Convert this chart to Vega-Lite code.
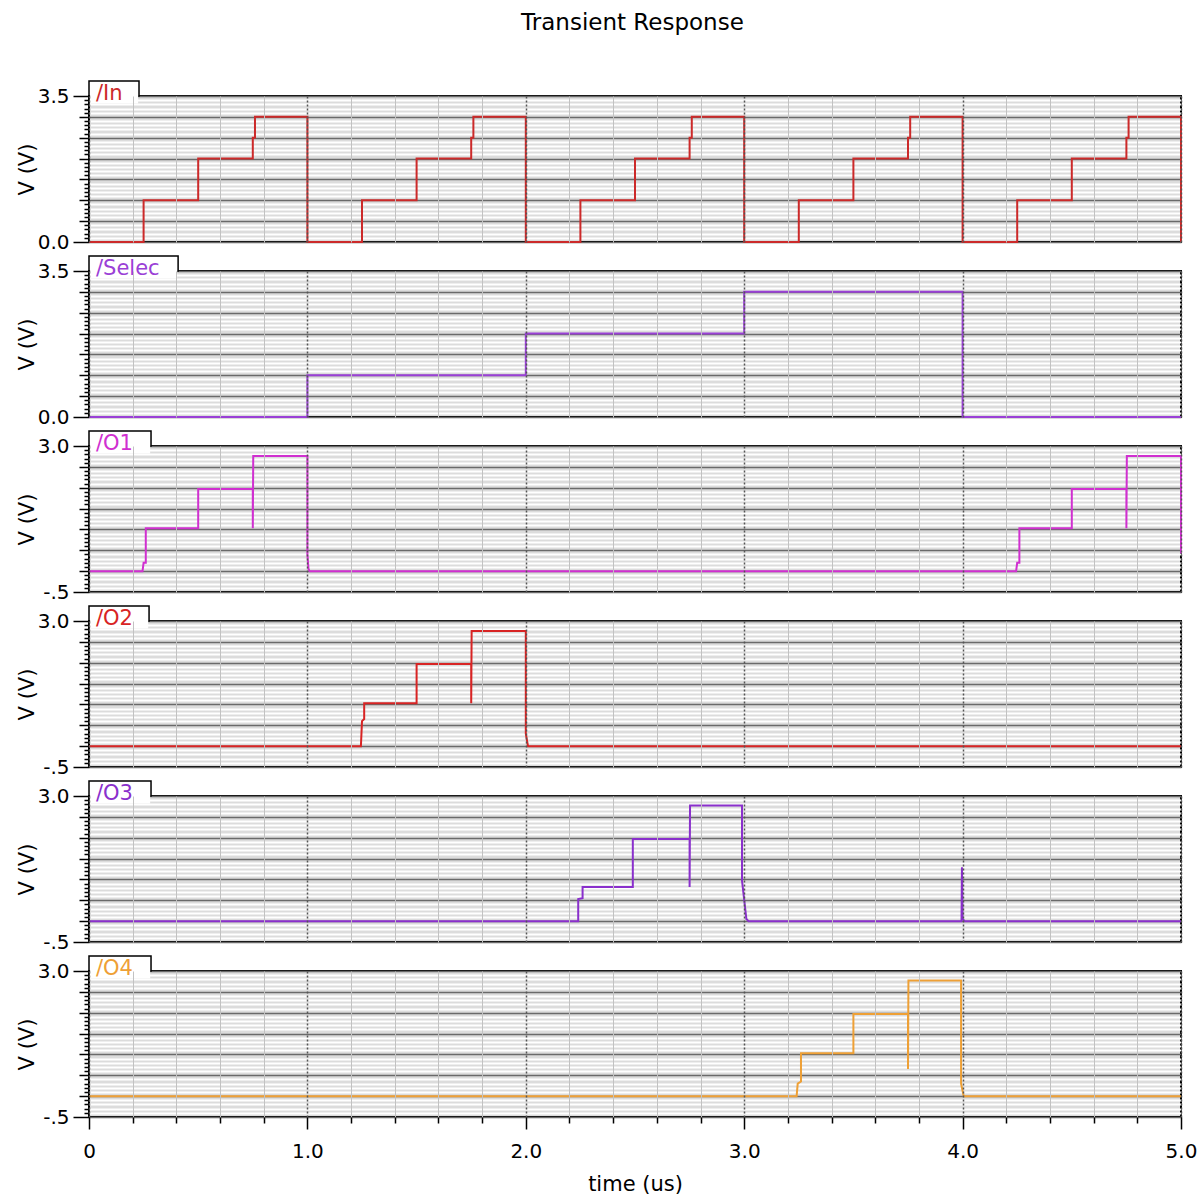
{
 "$schema": "https://vega.github.io/schema/vega-lite/v6.json",
 "padding": {"left": 15, "top": 12, "right": 20, "bottom": 4},
 "title": {"text": "Transient Response", "fontSize": 23, "fontWeight": "normal", "font": "DejaVu Sans", "color": "black", "anchor": "middle", "offset": 44, "dx": 26},
 "spacing": 1,
 "datasets": {
  "In": [
   {"t":0,"v":0},{"t":0.25,"v":0},{"t":0.25,"v":1},{"t":0.5,"v":1},{"t":0.5,"v":2},{"t":0.75,"v":2},{"t":0.75,"v":2.5},{"t":0.76,"v":2.5},{"t":0.76,"v":3},{"t":1,"v":3},{"t":1,"v":0},
   {"t":1.25,"v":0},{"t":1.25,"v":1},{"t":1.5,"v":1},{"t":1.5,"v":2},{"t":1.75,"v":2},{"t":1.75,"v":2.5},{"t":1.76,"v":2.5},{"t":1.76,"v":3},{"t":2,"v":3},{"t":2,"v":0},
   {"t":2.25,"v":0},{"t":2.25,"v":1},{"t":2.5,"v":1},{"t":2.5,"v":2},{"t":2.75,"v":2},{"t":2.75,"v":2.5},{"t":2.76,"v":2.5},{"t":2.76,"v":3},{"t":3,"v":3},{"t":3,"v":0},
   {"t":3.25,"v":0},{"t":3.25,"v":1},{"t":3.5,"v":1},{"t":3.5,"v":2},{"t":3.75,"v":2},{"t":3.75,"v":2.5},{"t":3.76,"v":2.5},{"t":3.76,"v":3},{"t":4,"v":3},{"t":4,"v":0},
   {"t":4.25,"v":0},{"t":4.25,"v":1},{"t":4.5,"v":1},{"t":4.5,"v":2},{"t":4.75,"v":2},{"t":4.75,"v":2.5},{"t":4.76,"v":2.5},{"t":4.76,"v":3},{"t":5,"v":3},{"t":5,"v":0}
  ],
  "Selec": [
   {"t":0,"v":0},{"t":1,"v":0},{"t":1,"v":1},{"t":2,"v":1},{"t":2,"v":2},{"t":3,"v":2},{"t":3,"v":3},{"t":4,"v":3},{"t":4,"v":0},{"t":5,"v":0}
  ],
  "O1": [
   {"t":0,"v":0},{"t":0.245,"v":0},{"t":0.25,"v":0.2},{"t":0.26,"v":0.2},{"t":0.26,"v":1.03},{"t":0.5,"v":1.03},{"t":0.5,"v":1.97},{"t":0.75,"v":1.97},{"t":0.75,"v":1.03},{"t":0.752,"v":2.76},{"t":1,"v":2.76},{"t":1,"v":0.4},{"t":1.005,"v":0.05},{"t":1.01,"v":0},
   {"t":4.245,"v":0},{"t":4.25,"v":0.2},{"t":4.26,"v":0.2},{"t":4.26,"v":1.03},{"t":4.5,"v":1.03},{"t":4.5,"v":1.97},{"t":4.75,"v":1.97},{"t":4.75,"v":1.03},{"t":4.752,"v":2.76},{"t":5,"v":2.76},{"t":5,"v":0.43}
  ],
  "O2": [
   {"t":0,"v":0},{"t":1.245,"v":0},{"t":1.25,"v":0.6},{"t":1.26,"v":0.65},{"t":1.26,"v":1.03},{"t":1.5,"v":1.03},{"t":1.5,"v":1.97},{"t":1.75,"v":1.97},{"t":1.75,"v":1.03},{"t":1.752,"v":2.76},{"t":2,"v":2.76},{"t":2,"v":0.3},{"t":2.01,"v":0},{"t":5,"v":0}
  ],
  "O3": [
   {"t":0,"v":0},{"t":2.24,"v":0},{"t":2.24,"v":0.53},{"t":2.26,"v":0.55},{"t":2.26,"v":0.82},{"t":2.49,"v":0.82},{"t":2.49,"v":1.97},{"t":2.75,"v":1.97},{"t":2.75,"v":0.82},{"t":2.752,"v":2.77},{"t":2.99,"v":2.77},{"t":2.99,"v":0.97},{"t":3.01,"v":0.05},{"t":3.02,"v":0},
   {"t":3.995,"v":0},{"t":3.997,"v":1.29},{"t":4,"v":0.05},{"t":4.01,"v":0},{"t":5,"v":0}
  ],
  "O4": [
   {"t":0,"v":0},{"t":3.24,"v":0},{"t":3.245,"v":0.3},{"t":3.26,"v":0.35},{"t":3.26,"v":1.03},{"t":3.5,"v":1.03},{"t":3.5,"v":1.97},{"t":3.75,"v":1.97},{"t":3.75,"v":0.65},{"t":3.752,"v":2.77},{"t":3.993,"v":2.77},{"t":3.993,"v":0.3},{"t":4.005,"v":0},{"t":5,"v":0}
  ]
 },
 "vconcat": [
  {
   "width": 1092, "height": 146,
   "layer": [
    {"data": {"name": "In"}, "mark": {"type": "line", "color": "#cc2a2a", "strokeWidth": 2},
     "encoding": {
      "x": {"field": "t", "type": "quantitative", "scale": {"domain": [0,5], "nice": false},
        "axis": {"values": [0,0.2,0.4,0.6,0.8,1,1.2,1.4,1.6,1.8,2,2.2,2.4,2.6,2.8,3,3.2,3.4,3.6,3.8,4,4.2,4.4,4.6,4.8,5], "tickCount": 200, "labels": false, "ticks": false, "domain": false, "title": null, "grid": true, "zindex": 1,
          "gridColor": {"condition": {"test": "abs(datum.value - round(datum.value)) < 0.01", "value": "#555555"}, "value": "#c2c2c2"},
          "gridDash": {"condition": {"test": "abs(datum.value - round(datum.value)) < 0.01", "value": [2,2]}, "value": []},
          "gridWidth": {"condition": {"test": "abs(datum.value - round(datum.value)) < 0.01", "value": 1.5}, "value": 1}}},
      "y": {"field": "v", "type": "quantitative", "scale": {"domain": [0,3.5], "nice": false, "zero": false},
        "axis": {"values": [0,0.1,0.2,0.3,0.4,0.5,0.6,0.7,0.8,0.9,1,1.1,1.2,1.3,1.4,1.5,1.6,1.7,1.8,1.9,2,2.1,2.2,2.3,2.4,2.5,2.6,2.7,2.8,2.9,3,3.1,3.2,3.3,3.4,3.5], "tickCount": 200,
          "title": "V (V)", "titlePadding": 8, "minExtent": 44, "maxExtent": 44, "domain": false, "labelPadding": 4,
          "labelExpr": "datum.value == 0 ? '0.0' : datum.value == 3.5 ? '3.5' : ''",
          "tickWidth": 1.5,
          "tickSize": {"condition": [{"test": "datum.value == 0 || datum.value == 3.5", "value": 16}, {"test": "abs(datum.value*2 - round(datum.value*2)) < 0.01", "value": 10}], "value": 5},
          "grid": true,
          "gridColor": {"condition": {"test": "abs(datum.value*2 - round(datum.value*2)) < 0.01", "value": "#6a6a6a"}, "value": "#ffffff"},
          "gridWidth": {"condition": {"test": "abs(datum.value*2 - round(datum.value*2)) < 0.01", "value": 1.5}, "value": 2}}},
      "order": {"value": null}
     }},
    {"data": {"values": [{"name": "/In"}]}, "mark": {"type": "rect", "fill": "white", "stroke": "black", "strokeWidth": 1.5},
     "encoding": {"x": {"datum": 0}, "x2": {"datum": 0.229}, "y": {"datum": 3.5}, "y2": {"datum": 3.86}}},
    {"data": {"values": [{"name": "/In"}]}, "mark": {"type": "rect", "fill": "white"},
     "encoding": {"x": {"datum": 0.005}, "x2": {"datum": 0.225}, "y": {"datum": 3.32}, "y2": {"datum": 3.525}}},
    {"data": {"values": [{"name": "/In"}]}, "mark": {"type": "text", "align": "left", "baseline": "middle", "dx": 7, "dy": -2, "fontSize": 21, "color": "#cc2a2a"},
     "encoding": {"x": {"datum": 0}, "y": {"datum": 3.5}, "text": {"field": "name"}}}
   ]
  },
  {
   "width": 1092, "height": 146,
   "layer": [
    {"data": {"name": "Selec"}, "mark": {"type": "line", "color": "#9a40d6", "strokeWidth": 2},
     "encoding": {
      "x": {"field": "t", "type": "quantitative", "scale": {"domain": [0,5], "nice": false},
        "axis": {"values": [0,0.2,0.4,0.6,0.8,1,1.2,1.4,1.6,1.8,2,2.2,2.4,2.6,2.8,3,3.2,3.4,3.6,3.8,4,4.2,4.4,4.6,4.8,5], "tickCount": 200, "labels": false, "ticks": false, "domain": false, "title": null, "grid": true, "zindex": 1,
          "gridColor": {"condition": {"test": "abs(datum.value - round(datum.value)) < 0.01", "value": "#555555"}, "value": "#c2c2c2"},
          "gridDash": {"condition": {"test": "abs(datum.value - round(datum.value)) < 0.01", "value": [2,2]}, "value": []},
          "gridWidth": {"condition": {"test": "abs(datum.value - round(datum.value)) < 0.01", "value": 1.5}, "value": 1}}},
      "y": {"field": "v", "type": "quantitative", "scale": {"domain": [0,3.5], "nice": false, "zero": false},
        "axis": {"values": [0,0.1,0.2,0.3,0.4,0.5,0.6,0.7,0.8,0.9,1,1.1,1.2,1.3,1.4,1.5,1.6,1.7,1.8,1.9,2,2.1,2.2,2.3,2.4,2.5,2.6,2.7,2.8,2.9,3,3.1,3.2,3.3,3.4,3.5], "tickCount": 200,
          "title": "V (V)", "titlePadding": 8, "minExtent": 44, "maxExtent": 44, "domain": false, "labelPadding": 4,
          "labelExpr": "datum.value == 0 ? '0.0' : datum.value == 3.5 ? '3.5' : ''",
          "tickWidth": 1.5,
          "tickSize": {"condition": [{"test": "datum.value == 0 || datum.value == 3.5", "value": 16}, {"test": "abs(datum.value*2 - round(datum.value*2)) < 0.01", "value": 10}], "value": 5},
          "grid": true,
          "gridColor": {"condition": {"test": "abs(datum.value*2 - round(datum.value*2)) < 0.01", "value": "#6a6a6a"}, "value": "#ffffff"},
          "gridWidth": {"condition": {"test": "abs(datum.value*2 - round(datum.value*2)) < 0.01", "value": 1.5}, "value": 2}}},
      "order": {"value": null}
     }},
    {"data": {"values": [{"name": "/Selec"}]}, "mark": {"type": "rect", "fill": "white", "stroke": "black", "strokeWidth": 1.5},
     "encoding": {"x": {"datum": 0}, "x2": {"datum": 0.408}, "y": {"datum": 3.5}, "y2": {"datum": 3.86}}},
    {"data": {"values": [{"name": "/Selec"}]}, "mark": {"type": "rect", "fill": "white"},
     "encoding": {"x": {"datum": 0.005}, "x2": {"datum": 0.404}, "y": {"datum": 3.32}, "y2": {"datum": 3.525}}},
    {"data": {"values": [{"name": "/Selec"}]}, "mark": {"type": "text", "align": "left", "baseline": "middle", "dx": 7, "dy": -2, "fontSize": 21, "color": "#9a40d6"},
     "encoding": {"x": {"datum": 0}, "y": {"datum": 3.5}, "text": {"field": "name"}}}
   ]
  },
  {
   "width": 1092, "height": 146,
   "layer": [
    {"data": {"name": "O1"}, "mark": {"type": "line", "color": "#d030d0", "strokeWidth": 2},
     "encoding": {
      "x": {"field": "t", "type": "quantitative", "scale": {"domain": [0,5], "nice": false},
        "axis": {"values": [0,0.2,0.4,0.6,0.8,1,1.2,1.4,1.6,1.8,2,2.2,2.4,2.6,2.8,3,3.2,3.4,3.6,3.8,4,4.2,4.4,4.6,4.8,5], "tickCount": 200, "labels": false, "ticks": false, "domain": false, "title": null, "grid": true, "zindex": 1,
          "gridColor": {"condition": {"test": "abs(datum.value - round(datum.value)) < 0.01", "value": "#555555"}, "value": "#c2c2c2"},
          "gridDash": {"condition": {"test": "abs(datum.value - round(datum.value)) < 0.01", "value": [2,2]}, "value": []},
          "gridWidth": {"condition": {"test": "abs(datum.value - round(datum.value)) < 0.01", "value": 1.5}, "value": 1}}},
      "y": {"field": "v", "type": "quantitative", "scale": {"domain": [-0.5,3], "nice": false, "zero": false},
        "axis": {"values": [-0.5,-0.4,-0.3,-0.2,-0.1,0,0.1,0.2,0.3,0.4,0.5,0.6,0.7,0.8,0.9,1,1.1,1.2,1.3,1.4,1.5,1.6,1.7,1.8,1.9,2,2.1,2.2,2.3,2.4,2.5,2.6,2.7,2.8,2.9,3], "tickCount": 200,
          "title": "V (V)", "titlePadding": 8, "minExtent": 44, "maxExtent": 44, "domain": false, "labelPadding": 4,
          "labelExpr": "datum.value == -0.5 ? '-.5' : datum.value == 3 ? '3.0' : ''",
          "tickWidth": 1.5,
          "tickSize": {"condition": [{"test": "datum.value == -0.5 || datum.value == 3", "value": 16}, {"test": "abs(datum.value*2 - round(datum.value*2)) < 0.01", "value": 10}], "value": 5},
          "grid": true,
          "gridColor": {"condition": {"test": "abs(datum.value*2 - round(datum.value*2)) < 0.01", "value": "#6a6a6a"}, "value": "#ffffff"},
          "gridWidth": {"condition": {"test": "abs(datum.value*2 - round(datum.value*2)) < 0.01", "value": 1.5}, "value": 2}}},
      "order": {"value": null}
     }},
    {"data": {"values": [{"name": "/O1"}]}, "mark": {"type": "rect", "fill": "white", "stroke": "black", "strokeWidth": 1.5},
     "encoding": {"x": {"datum": 0}, "x2": {"datum": 0.284}, "y": {"datum": 3}, "y2": {"datum": 3.36}}},
    {"data": {"values": [{"name": "/O1"}]}, "mark": {"type": "rect", "fill": "white"},
     "encoding": {"x": {"datum": 0.005}, "x2": {"datum": 0.28}, "y": {"datum": 2.82}, "y2": {"datum": 3.025}}},
    {"data": {"values": [{"name": "/O1"}]}, "mark": {"type": "text", "align": "left", "baseline": "middle", "dx": 7, "dy": -2, "fontSize": 21, "color": "#d030d0"},
     "encoding": {"x": {"datum": 0}, "y": {"datum": 3}, "text": {"field": "name"}}}
   ]
  },
  {
   "width": 1092, "height": 146,
   "layer": [
    {"data": {"name": "O2"}, "mark": {"type": "line", "color": "#d82424", "strokeWidth": 2},
     "encoding": {
      "x": {"field": "t", "type": "quantitative", "scale": {"domain": [0,5], "nice": false},
        "axis": {"values": [0,0.2,0.4,0.6,0.8,1,1.2,1.4,1.6,1.8,2,2.2,2.4,2.6,2.8,3,3.2,3.4,3.6,3.8,4,4.2,4.4,4.6,4.8,5], "tickCount": 200, "labels": false, "ticks": false, "domain": false, "title": null, "grid": true, "zindex": 1,
          "gridColor": {"condition": {"test": "abs(datum.value - round(datum.value)) < 0.01", "value": "#555555"}, "value": "#c2c2c2"},
          "gridDash": {"condition": {"test": "abs(datum.value - round(datum.value)) < 0.01", "value": [2,2]}, "value": []},
          "gridWidth": {"condition": {"test": "abs(datum.value - round(datum.value)) < 0.01", "value": 1.5}, "value": 1}}},
      "y": {"field": "v", "type": "quantitative", "scale": {"domain": [-0.5,3], "nice": false, "zero": false},
        "axis": {"values": [-0.5,-0.4,-0.3,-0.2,-0.1,0,0.1,0.2,0.3,0.4,0.5,0.6,0.7,0.8,0.9,1,1.1,1.2,1.3,1.4,1.5,1.6,1.7,1.8,1.9,2,2.1,2.2,2.3,2.4,2.5,2.6,2.7,2.8,2.9,3], "tickCount": 200,
          "title": "V (V)", "titlePadding": 8, "minExtent": 44, "maxExtent": 44, "domain": false, "labelPadding": 4,
          "labelExpr": "datum.value == -0.5 ? '-.5' : datum.value == 3 ? '3.0' : ''",
          "tickWidth": 1.5,
          "tickSize": {"condition": [{"test": "datum.value == -0.5 || datum.value == 3", "value": 16}, {"test": "abs(datum.value*2 - round(datum.value*2)) < 0.01", "value": 10}], "value": 5},
          "grid": true,
          "gridColor": {"condition": {"test": "abs(datum.value*2 - round(datum.value*2)) < 0.01", "value": "#6a6a6a"}, "value": "#ffffff"},
          "gridWidth": {"condition": {"test": "abs(datum.value*2 - round(datum.value*2)) < 0.01", "value": 1.5}, "value": 2}}},
      "order": {"value": null}
     }},
    {"data": {"values": [{"name": "/O2"}]}, "mark": {"type": "rect", "fill": "white", "stroke": "black", "strokeWidth": 1.5},
     "encoding": {"x": {"datum": 0}, "x2": {"datum": 0.275}, "y": {"datum": 3}, "y2": {"datum": 3.36}}},
    {"data": {"values": [{"name": "/O2"}]}, "mark": {"type": "rect", "fill": "white"},
     "encoding": {"x": {"datum": 0.005}, "x2": {"datum": 0.271}, "y": {"datum": 2.82}, "y2": {"datum": 3.025}}},
    {"data": {"values": [{"name": "/O2"}]}, "mark": {"type": "text", "align": "left", "baseline": "middle", "dx": 7, "dy": -2, "fontSize": 21, "color": "#d82424"},
     "encoding": {"x": {"datum": 0}, "y": {"datum": 3}, "text": {"field": "name"}}}
   ]
  },
  {
   "width": 1092, "height": 146,
   "layer": [
    {"data": {"name": "O3"}, "mark": {"type": "line", "color": "#8a30cc", "strokeWidth": 2},
     "encoding": {
      "x": {"field": "t", "type": "quantitative", "scale": {"domain": [0,5], "nice": false},
        "axis": {"values": [0,0.2,0.4,0.6,0.8,1,1.2,1.4,1.6,1.8,2,2.2,2.4,2.6,2.8,3,3.2,3.4,3.6,3.8,4,4.2,4.4,4.6,4.8,5], "tickCount": 200, "labels": false, "ticks": false, "domain": false, "title": null, "grid": true, "zindex": 1,
          "gridColor": {"condition": {"test": "abs(datum.value - round(datum.value)) < 0.01", "value": "#555555"}, "value": "#c2c2c2"},
          "gridDash": {"condition": {"test": "abs(datum.value - round(datum.value)) < 0.01", "value": [2,2]}, "value": []},
          "gridWidth": {"condition": {"test": "abs(datum.value - round(datum.value)) < 0.01", "value": 1.5}, "value": 1}}},
      "y": {"field": "v", "type": "quantitative", "scale": {"domain": [-0.5,3], "nice": false, "zero": false},
        "axis": {"values": [-0.5,-0.4,-0.3,-0.2,-0.1,0,0.1,0.2,0.3,0.4,0.5,0.6,0.7,0.8,0.9,1,1.1,1.2,1.3,1.4,1.5,1.6,1.7,1.8,1.9,2,2.1,2.2,2.3,2.4,2.5,2.6,2.7,2.8,2.9,3], "tickCount": 200,
          "title": "V (V)", "titlePadding": 8, "minExtent": 44, "maxExtent": 44, "domain": false, "labelPadding": 4,
          "labelExpr": "datum.value == -0.5 ? '-.5' : datum.value == 3 ? '3.0' : ''",
          "tickWidth": 1.5,
          "tickSize": {"condition": [{"test": "datum.value == -0.5 || datum.value == 3", "value": 16}, {"test": "abs(datum.value*2 - round(datum.value*2)) < 0.01", "value": 10}], "value": 5},
          "grid": true,
          "gridColor": {"condition": {"test": "abs(datum.value*2 - round(datum.value*2)) < 0.01", "value": "#6a6a6a"}, "value": "#ffffff"},
          "gridWidth": {"condition": {"test": "abs(datum.value*2 - round(datum.value*2)) < 0.01", "value": 1.5}, "value": 2}}},
      "order": {"value": null}
     }},
    {"data": {"values": [{"name": "/O3"}]}, "mark": {"type": "rect", "fill": "white", "stroke": "black", "strokeWidth": 1.5},
     "encoding": {"x": {"datum": 0}, "x2": {"datum": 0.284}, "y": {"datum": 3}, "y2": {"datum": 3.36}}},
    {"data": {"values": [{"name": "/O3"}]}, "mark": {"type": "rect", "fill": "white"},
     "encoding": {"x": {"datum": 0.005}, "x2": {"datum": 0.28}, "y": {"datum": 2.82}, "y2": {"datum": 3.025}}},
    {"data": {"values": [{"name": "/O3"}]}, "mark": {"type": "text", "align": "left", "baseline": "middle", "dx": 7, "dy": -2, "fontSize": 21, "color": "#8a30cc"},
     "encoding": {"x": {"datum": 0}, "y": {"datum": 3}, "text": {"field": "name"}}}
   ]
  },
  {
   "width": 1092, "height": 146,
   "layer": [
    {"data": {"name": "O4"}, "mark": {"type": "line", "color": "#eea036", "strokeWidth": 2},
     "encoding": {
      "x": {"field": "t", "type": "quantitative", "scale": {"domain": [0,5], "nice": false},
        "axis": {"values": [0,0.2,0.4,0.6,0.8,1,1.2,1.4,1.6,1.8,2,2.2,2.4,2.6,2.8,3,3.2,3.4,3.6,3.8,4,4.2,4.4,4.6,4.8,5], "tickCount": 200,
          "title": "time (us)", "titlePadding": 12, "domain": false, "labelPadding": 12, "labelFlush": false,
          "labelExpr": "datum.value == 0 ? '0' : abs(datum.value - round(datum.value)) < 0.01 ? format(datum.value, '.1f') : ''",
          "tickWidth": 1.5,
          "tickSize": {"condition": {"test": "abs(datum.value - round(datum.value)) < 0.01", "value": 12}, "value": 6},
          "grid": true, "zindex": 1,
          "gridColor": {"condition": {"test": "abs(datum.value - round(datum.value)) < 0.01", "value": "#555555"}, "value": "#c2c2c2"},
          "gridDash": {"condition": {"test": "abs(datum.value - round(datum.value)) < 0.01", "value": [2,2]}, "value": []},
          "gridWidth": {"condition": {"test": "abs(datum.value - round(datum.value)) < 0.01", "value": 1.5}, "value": 1}}},
      "y": {"field": "v", "type": "quantitative", "scale": {"domain": [-0.5,3], "nice": false, "zero": false},
        "axis": {"values": [-0.5,-0.4,-0.3,-0.2,-0.1,0,0.1,0.2,0.3,0.4,0.5,0.6,0.7,0.8,0.9,1,1.1,1.2,1.3,1.4,1.5,1.6,1.7,1.8,1.9,2,2.1,2.2,2.3,2.4,2.5,2.6,2.7,2.8,2.9,3], "tickCount": 200,
          "title": "V (V)", "titlePadding": 8, "minExtent": 44, "maxExtent": 44, "domain": false, "labelPadding": 4,
          "labelExpr": "datum.value == -0.5 ? '-.5' : datum.value == 3 ? '3.0' : ''",
          "tickWidth": 1.5,
          "tickSize": {"condition": [{"test": "datum.value == -0.5 || datum.value == 3", "value": 16}, {"test": "abs(datum.value*2 - round(datum.value*2)) < 0.01", "value": 10}], "value": 5},
          "grid": true,
          "gridColor": {"condition": {"test": "abs(datum.value*2 - round(datum.value*2)) < 0.01", "value": "#6a6a6a"}, "value": "#ffffff"},
          "gridWidth": {"condition": {"test": "abs(datum.value*2 - round(datum.value*2)) < 0.01", "value": 1.5}, "value": 2}}},
      "order": {"value": null}
     }},
    {"data": {"values": [{"name": "/O4"}]}, "mark": {"type": "rect", "fill": "white", "stroke": "black", "strokeWidth": 1.5},
     "encoding": {"x": {"datum": 0}, "x2": {"datum": 0.284}, "y": {"datum": 3}, "y2": {"datum": 3.36}}},
    {"data": {"values": [{"name": "/O4"}]}, "mark": {"type": "rect", "fill": "white"},
     "encoding": {"x": {"datum": 0.005}, "x2": {"datum": 0.28}, "y": {"datum": 2.82}, "y2": {"datum": 3.025}}},
    {"data": {"values": [{"name": "/O4"}]}, "mark": {"type": "text", "align": "left", "baseline": "middle", "dx": 7, "dy": -2, "fontSize": 21, "color": "#eea036"},
     "encoding": {"x": {"datum": 0}, "y": {"datum": 3}, "text": {"field": "name"}}}
   ]
  }
 ],
 "config": {
  "view": {"stroke": "black", "strokeWidth": 2, "fill": "#dcdcdc"},
  "axis": {"labelFont": "DejaVu Sans", "titleFont": "DejaVu Sans", "labelColor": "black", "titleColor": "black", "titleFontWeight": "normal", "labelFontSize": 20, "titleFontSize": 21, "tickColor": "black", "gridOpacity": 1, "labelOverlap": false},
  "text": {"font": "DejaVu Sans"}
 }
}
